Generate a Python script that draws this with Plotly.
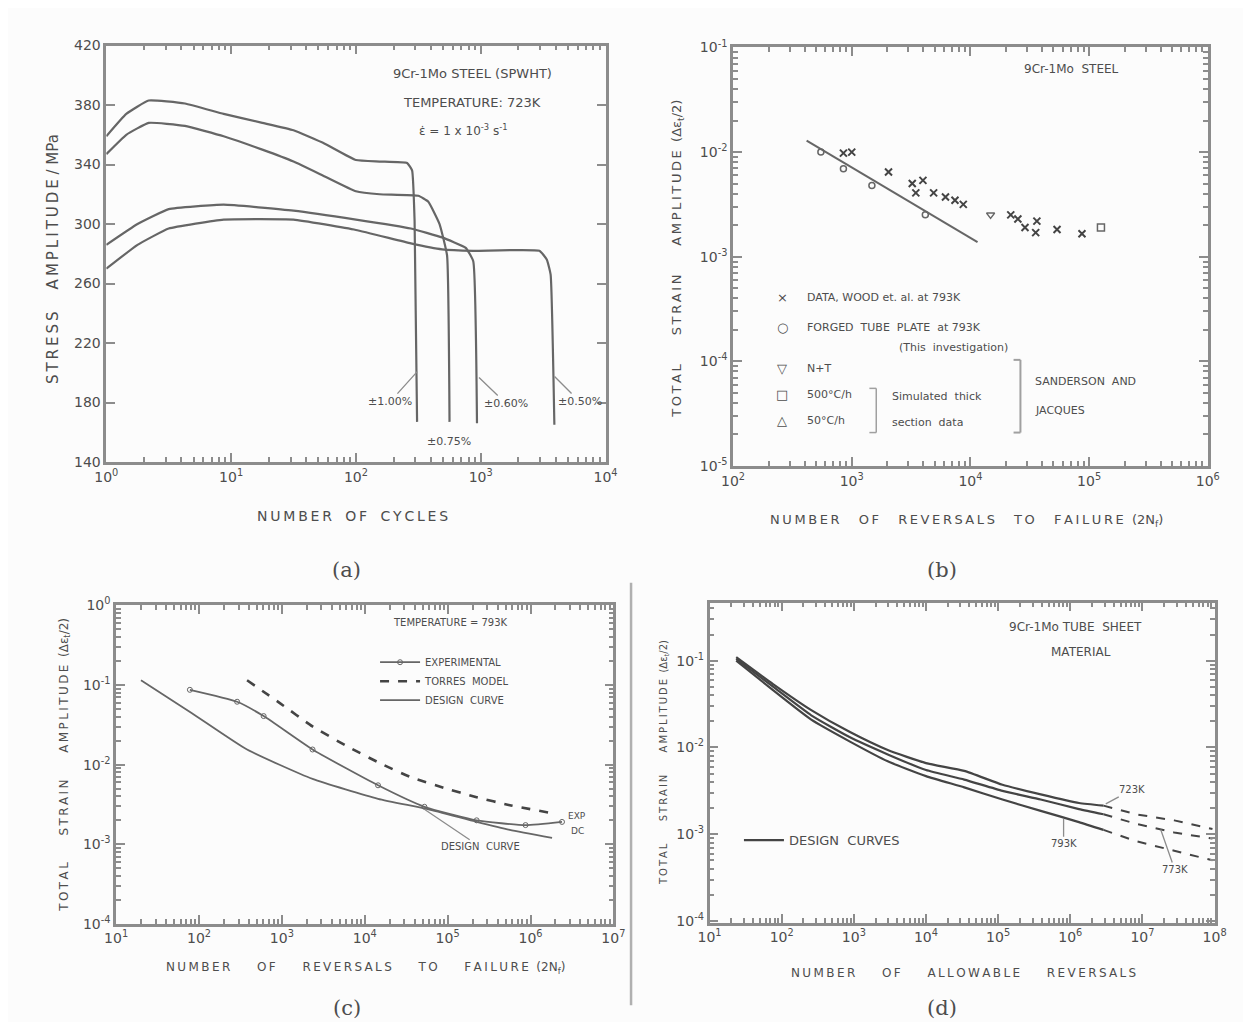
import numpy as np
import plotly.graph_objects as go

W, H = 1251, 1022
FONT = "DejaVu Sans"
SERIF = "DejaVu Serif"
INK = "#4d4d4d"
LINE = "#666666"
DARK = "#444444"
FRAME = "#8c8c8c"
BG = "#fcfcfc"

# ---------------- (a) cyclic stress response (9Cr-1Mo SPWHT, 723 K) ----------------
a_yticks = [140, 180, 220, 260, 300, 340, 380, 420]
a_xexp = [0, 1, 2, 3, 4]
a_names = ["\u00b11.00%", "\u00b10.75%", "\u00b10.60%", "\u00b10.50%"]
a100_logN = [0, 0.16, 0.34, 0.63, 0.94, 1.25, 1.5, 1.75, 2.0, 2.19, 2.41, 2.45, 2.47, 2.49]
a100_S = [359, 374, 383, 381, 374, 368, 363, 354, 343, 342, 341, 336, 302, 167]
a075_logN = [0, 0.16, 0.34, 0.63, 0.94, 1.25, 1.5, 1.75, 2.0, 2.19, 2.5, 2.58, 2.67, 2.73, 2.75]
a075_S = [347, 360, 368, 366, 359, 350, 342, 332, 322, 320, 319, 315, 300, 279, 167]
a060_logN = [0, 0.25, 0.5, 0.94, 1.5, 2.0, 2.44, 2.69, 2.88, 2.94, 2.97]
a060_S = [286, 300, 310, 313, 309, 303, 297, 291, 284, 275, 166]
a050_logN = [0, 0.25, 0.5, 0.94, 1.5, 2.0, 2.44, 2.69, 2.94, 3.47, 3.53, 3.56, 3.59]
a050_S = [270, 286, 297, 303, 303, 296, 287, 283, 282, 282, 276, 266, 165]

# ---------------- (b) strain-life data, 9Cr-1Mo ----------------
b_xexp = [2, 3, 4, 5, 6]
b_yexp = [-1, -2, -3, -4, -5]
b_fit_log2Nf = [2.62, 4.06]
b_fit_logE = [-1.89, -2.86]
b_wood_log2Nf = [2.93, 3.0, 3.31, 3.51, 3.6, 3.54, 3.69, 3.79, 3.87, 3.94, 4.34, 4.4, 4.46, 4.56, 4.55, 4.73, 4.94]
b_wood_logE = [-2.01, -2.0, -2.19, -2.30, -2.27, -2.39, -2.39, -2.43, -2.46, -2.50, -2.60, -2.64, -2.72, -2.66, -2.77, -2.74, -2.78]
b_forged_log2Nf = [2.74, 2.93, 3.17, 3.62]
b_forged_logE = [-2.0, -2.16, -2.32, -2.60]
b_nt_log2Nf = [4.17]
b_nt_logE = [-2.60]
b_500_log2Nf = [5.10]
b_500_logE = [-2.72]

# ---------------- (c) 793 K comparison ----------------
c_xexp = [1, 2, 3, 4, 5, 6, 7]
c_yexp = [0, -1, -2, -3, -4]
c_exp_log2Nf = [1.89, 2.46, 2.78, 3.37, 4.16, 4.72, 5.35, 5.94, 6.38]
c_exp_logE = [-1.06, -1.21, -1.39, -1.81, -2.26, -2.53, -2.70, -2.76, -2.72]
c_torres_log2Nf = [2.58, 2.98, 3.37, 3.77, 4.16, 4.56, 4.95, 5.35, 5.75, 6.26]
c_torres_logE = [-0.94, -1.23, -1.52, -1.76, -1.97, -2.16, -2.29, -2.41, -2.51, -2.61]
c_design_log2Nf = [1.30, 1.91, 2.58, 3.37, 4.16, 4.76, 5.35, 5.75, 6.26]
c_design_logE = [-0.94, -1.35, -1.81, -2.18, -2.43, -2.56, -2.72, -2.82, -2.92]

# ---------------- (d) design curves, tube sheet material ----------------
d_xexp = [1, 2, 3, 4, 5, 6, 7, 8]
d_yexp = [-1, -2, -3, -4]
d_temps = ["723K", "773K", "793K"]
d_log2N = [1.37, 1.88, 2.41, 2.94, 3.47, 4.0, 4.53, 5.06, 5.59, 6.12, 6.46, 6.91, 7.44, 7.97]
d723_logE = [-0.96, -1.27, -1.57, -1.82, -2.03, -2.18, -2.27, -2.43, -2.54, -2.64, -2.67, -2.77, -2.84, -2.94]
d773_logE = [-0.98, -1.30, -1.63, -1.88, -2.08, -2.26, -2.37, -2.50, -2.60, -2.71, -2.77, -2.88, -2.98, -3.05]
d793_logE = [-1.00, -1.34, -1.68, -1.93, -2.16, -2.33, -2.46, -2.60, -2.73, -2.86, -2.95, -3.08, -3.19, -3.30]
d_dash_from = 6.4  # extrapolated (dashed) beyond this exponent


def P(x, y):
    return x / W, 1 - y / H


def xdom(l, r):
    return [l / W, r / W]


def ydom(t, b):
    return [1 - b / H, 1 - t / H]


def sp(s):
    """letter-spacing imitation with thin spaces"""
    return "\u2009".join(list(s)).replace("\u2009 \u2009", "\u00a0\u00a0\u00a0")


def p10(v):
    return [10.0 ** e for e in v]


fig = go.Figure()


def add(x, y, xa, ya, **kw):
    fig.add_trace(go.Scatter(x=x, y=y, xaxis=xa, yaxis=ya, showlegend=kw.pop("showlegend", False),
                             hoverinfo="skip", **kw))


# (a)
for lx, s in [(a100_logN, a100_S), (a075_logN, a075_S), (a060_logN, a060_S), (a050_logN, a050_S)]:
    add(p10(lx), s, "x", "y", mode="lines", line=dict(color=LINE, width=2.2, shape="spline", smoothing=0.35))

# (b)
add(p10(b_fit_log2Nf), p10(b_fit_logE), "x2", "y2", mode="lines", line=dict(color=LINE, width=2))
add(p10(b_wood_log2Nf), p10(b_wood_logE), "x2", "y2", mode="markers",
    marker=dict(symbol="x-thin-open", size=7, color=DARK, line=dict(color=DARK, width=2)))
add(p10(b_forged_log2Nf), p10(b_forged_logE), "x2", "y2", mode="markers",
    marker=dict(symbol="circle-open", size=6, color=LINE, line=dict(color=LINE, width=1.5)))
add(p10(b_nt_log2Nf), p10(b_nt_logE), "x2", "y2", mode="markers",
    marker=dict(symbol="triangle-down-open", size=7, color=LINE, line=dict(color=LINE, width=1.5)))
add(p10(b_500_log2Nf), p10(b_500_logE), "x2", "y2", mode="markers",
    marker=dict(symbol="square-open", size=7, color=LINE, line=dict(color=LINE, width=1.5)))

# (c)
add(p10(c_exp_log2Nf), p10(c_exp_logE), "x3", "y3", mode="lines+markers", name="EXPERIMENTAL",
    showlegend=True, legend="legend",
    line=dict(color=LINE, width=1.8, shape="spline", smoothing=0.5),
    marker=dict(symbol="circle-open", size=5, color=LINE))
add(p10(c_torres_log2Nf), p10(c_torres_logE), "x3", "y3", mode="lines", name="TORRES  MODEL",
    showlegend=True, legend="legend",
    line=dict(color=DARK, width=2.6, dash="dash", shape="spline", smoothing=0.5))
add(p10(c_design_log2Nf), p10(c_design_logE), "x3", "y3", mode="lines", name="DESIGN  CURVE",
    showlegend=True, legend="legend",
    line=dict(color=LINE, width=1.8, shape="spline", smoothing=0.5))

# (d)
first = True
for le in [d723_logE, d773_logE, d793_logE]:
    xs = np.array(d_log2N)
    ys = np.array(le)
    solid = xs <= d_dash_from + 0.1
    dash = xs >= d_dash_from
    add(p10(xs[solid]), p10(ys[solid]), "x4", "y4", mode="lines", name="DESIGN  CURVES",
        showlegend=first, legend="legend2",
        line=dict(color=DARK, width=2.2, shape="spline", smoothing=0.5))
    add(p10(xs[dash]), p10(ys[dash]), "x4", "y4", mode="lines",
        line=dict(color=DARK, width=2.0, dash="dash"))
    first = False


def base_axis(domain, anchor, typ, rng, tv, tt, minor):
    d = dict(domain=domain, anchor=anchor, type=typ, range=rng, tickmode="array", tickvals=tv, ticktext=tt,
             showline=True, linewidth=2.6, linecolor=FRAME, mirror="allticks", ticks="inside", ticklen=9,
             tickwidth=2, tickcolor=FRAME, showgrid=False, zeroline=False,
             tickfont=dict(family=FONT, size=14, color=INK))
    if minor:
        d["minor"] = dict(ticks="inside", ticklen=5, tickwidth=1.5, tickcolor=FRAME, showgrid=False,
                          dtick="D1")
    return d


def logticks(exps):
    return [10.0 ** e for e in exps], [f"10<sup>{e}</sup>" for e in exps]


tv, tt = logticks(a_xexp)
xa = base_axis(xdom(88, 597), "y", "log", [0, 4], tv, tt, True)
ya = base_axis(ydom(28, 452), "x", "linear", [140, 420], a_yticks, [str(v) for v in a_yticks], False)

tv, tt = logticks(b_xexp)
xb = base_axis(xdom(727, 1211), "y2", "log", [2, 6], tv, tt, True)
tv, tt = logticks(b_yexp)
yb = base_axis(ydom(30, 456), "x2", "log", [-5, -1], tv, tt, True)

tv, tt = logticks(c_xexp)
xc = base_axis(xdom(98, 605), "y3", "log", [1, 7], tv, tt, True)
tv, tt = logticks(c_yexp)
yc = base_axis(ydom(598, 922), "x3", "log", [-4, 0], tv, tt, True)

tv, tt = logticks(d_xexp)
xd = base_axis(xdom(703, 1218), "y4", "log", [1, 8], tv, tt, True)
tv, tt = logticks(d_yexp)
yd = base_axis(ydom(595, 921), "x4", "log", [-4.02, -0.33], tv, tt, True)

ann = []


def text(x, y, s, size=12, xanchor="center", angle=0, color=INK, family=FONT):
    px, py = P(x, y)
    ann.append(dict(x=px, y=py, xref="paper", yref="paper", text=s, showarrow=False, textangle=angle,
                    font=dict(size=size, color=color, family=family), xanchor=xanchor, yanchor="middle"))


def leader(x, y, s, ax, ay, size=11):
    px, py = P(x, y)
    ann.append(dict(x=px, y=py, xref="paper", yref="paper", text=s, showarrow=True, ax=ax, ay=ay,
                    arrowhead=0, arrowwidth=1.3, arrowcolor=FRAME, standoff=0,
                    font=dict(size=size, color=INK, family=FONT)))


# panel (a) texts
text(461, 57, "9Cr-1Mo\u00a0STEEL\u00a0(SPWHT)", 13)
text(461, 86, "TEMPERATURE:\u00a0723K", 13)
text(452, 114, "\u03b5\u0307 = 1 x 10<sup>-3</sup> s<sup>-1</sup>", 12)
text(33, 245, sp("STRESS  AMPLITUDE") + "\u00a0/\u00a0MPa", 15, angle=-90)
text(339, 507, sp("NUMBER OF CYCLES"), 14)
leader(405, 360, a_names[0], -27, 30)
text(437, 431, a_names[1], 11)
leader(468, 366, a_names[2], 27, 26)
leader(545, 365, a_names[3], 25, 25)
text(333, 562, "(a)", 21, family=SERIF)

# panel (b) texts
text(1072, 52, "9Cr-1Mo\u00a0\u00a0STEEL", 12)
text(671, 245, sp("TOTAL   STRAIN   AMPLITUDE") + "\u00a0\u00a0(\u0394\u03b5<sub>t</sub>/2)", 13, angle=-90)
text(965, 512, sp("NUMBER  OF  REVERSALS  TO  FAILURE") + "\u00a0\u00a0(2N<sub>f</sub>)", 13)
b_leg = [(285, "\u00d7", "DATA,\u00a0WOOD\u00a0et.\u00a0al.\u00a0at\u00a0793K"),
         (315, "\u25cb", "FORGED\u00a0\u00a0TUBE\u00a0\u00a0PLATE\u00a0\u00a0at\u00a0793K"),
         (357, "\u25bd", "N+T"),
         (383, "\u25a1", "500\u00b0C/h"),
         (410, "\u25b3", "50\u00b0C/h")]
for yy, sym, lab in b_leg:
    text(777, yy, sym, 13)
    text(800, yy, lab, 11, xanchor="left")
text(952, 335, "(This\u00a0\u00a0investigation)", 11)
text(887, 385, "Simulated\u00a0\u00a0thick", 11, xanchor="left")
text(887, 412, "section\u00a0\u00a0data", 11, xanchor="left")
text(1033, 370, "SANDERSON\u00a0\u00a0AND", 11, xanchor="left")
text(1033, 400, "JACQUES", 11, xanchor="left")
text(940, 562, "(b)", 21, family=SERIF)

# panel (c) texts
text(439, 615, "TEMPERATURE\u00a0=\u00a0793K", 10)
text(45, 760, sp("TOTAL   STRAIN   AMPLITUDE") + "\u00a0\u00a0(\u0394\u03b5<sub>t</sub>/2)", 12, angle=-90)
text(352, 967, sp("NUMBER   OF   REVERSALS   TO   FAILURE") + "\u00a0\u00a0(2N<sub>f</sub>)", 12)
leader(413, 806, "DESIGN\u00a0\u00a0CURVE", 55, 37, 10)
text(568, 812, "EXP", 9)
text(568, 828, "DC", 9)
text(333, 1008, "(c)", 21, family=SERIF)

# panel (d) texts
text(1076, 620, "9Cr-1Mo\u00a0TUBE\u00a0\u00a0SHEET", 12)
text(1082, 645, "MATERIAL", 12)
text(657, 758, sp("TOTAL   STRAIN   AMPLITUDE") + "\u00a0\u00a0(\u0394\u03b5<sub>t</sub>/2)", 10, angle=-90)
text(962, 972, sp("NUMBER   OF   ALLOWABLE   REVERSALS"), 12)
leader(1107, 800, d_temps[0], 26, -14, 10)
leader(1064, 815, d_temps[2], 0, 25, 10)
leader(1163, 826, d_temps[1], 14, 40, 10)
text(940, 1008, "(d)", 21, family=SERIF)

shapes = []


def seg(x0, y0, x1, y1, w=2, c="#a0a0a0"):
    a0, b0 = P(x0, y0)
    a1, b1 = P(x1, y1)
    shapes.append(dict(type="line", xref="paper", yref="paper", x0=a0, y0=b0, x1=a1, y1=b1,
                       line=dict(color=c, width=w)))


# brackets in legend (b)
seg(866, 377, 873, 377, 1.5)
seg(873, 377, 873, 422, 1.5)
seg(866, 422, 873, 422, 1.5)
seg(1013, 348, 1020, 348, 2)
seg(1020, 348, 1020, 422, 2)
seg(1013, 422, 1020, 422, 2)
# separator between (c) and (d)
seg(623, 575, 623, 1005, 2.5, "#b0b0b0")

lx, ly = P(362, 641)
l2x, l2y = P(733, 837)
fig.update_layout(
    width=W, height=H, margin=dict(l=0, r=0, t=0, b=0),
    paper_bgcolor=BG, plot_bgcolor=BG,
    xaxis=xa, yaxis=ya, xaxis2=xb, yaxis2=yb, xaxis3=xc, yaxis3=yc, xaxis4=xd, yaxis4=yd,
    annotations=ann, shapes=shapes,
    legend=dict(x=lx, y=ly, xanchor="left", yanchor="top", bgcolor="rgba(0,0,0,0)",
                font=dict(family=FONT, size=10, color=INK), tracegroupgap=0, itemwidth=40),
    legend2=dict(x=l2x, y=l2y, xanchor="left", yanchor="middle", bgcolor="rgba(0,0,0,0)",
                 font=dict(family=FONT, size=13, color=INK), itemwidth=40),
    font=dict(family=FONT, color=INK),
)

fig.write_html("out.html")
